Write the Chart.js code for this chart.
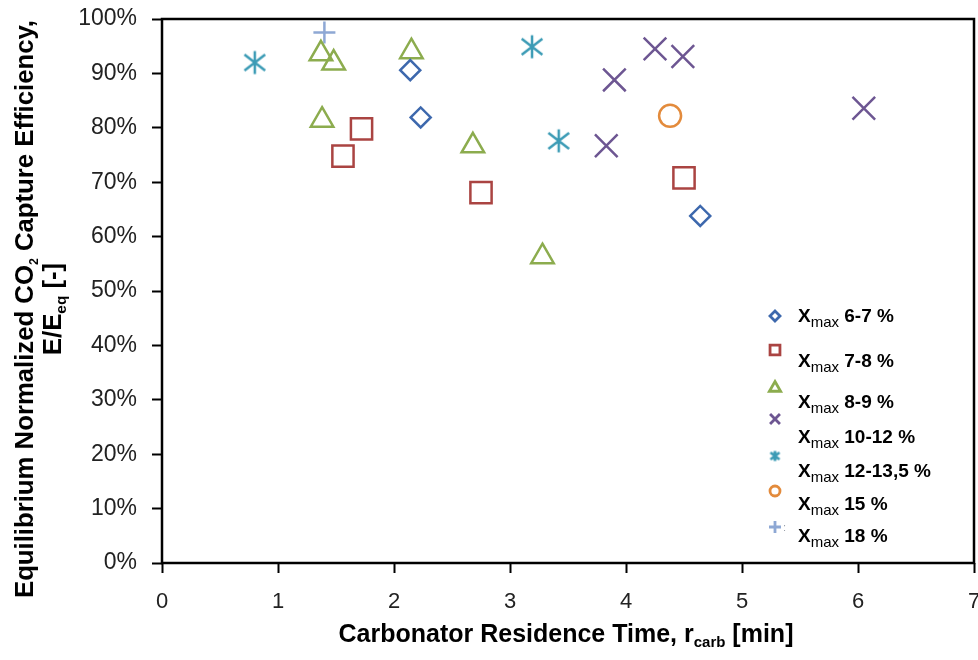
<!DOCTYPE html>
<html>
<head>
<meta charset="utf-8">
<script src="https://cdn.jsdelivr.net/npm/chart.js@4/dist/chart.umd.min.js"></script>
<style>
  html, body { margin: 0; padding: 0; background: #fff; overflow: hidden; }
  canvas { display: block; }
</style>
</head>
<body>
<canvas id="chartContainer" width="978" height="660"></canvas>
<script>
// residence time [min] and normalized capture efficiency [%] per Xmax group
var xmax67Time = [2.14, 2.23, 4.64];
var xmax67Eff = [90.6, 81.9, 63.8];
var xmax78Time = [1.56, 1.72, 2.75, 4.50];
var xmax78Eff = [74.8, 79.8, 68.1, 70.8];
var xmax89Time = [1.37, 1.38, 1.48, 2.15, 2.68, 3.28];
var xmax89Eff = [93.6, 81.4, 91.9, 94.0, 76.7, 56.3];
var xmax1012Time = [3.83, 3.90, 4.25, 4.49, 6.05];
var xmax1012Eff = [76.7, 88.8, 94.5, 93.1, 83.6];
var xmax12135Time = [0.80, 3.19, 3.42];
var xmax12135Eff = [92.0, 94.9, 77.6];
var xmax15Time = [4.38];
var xmax15Eff = [82.2];
var xmax18Time = [1.40];
var xmax18Eff = [97.5];

var seriesLabels = ['6-7 %', '7-8 %', '8-9 %', '10-12 %', '12-13,5 %', '15 %', '18 %'];
var xTicks = [0, 1, 2, 3, 4, 5, 6, 7];
var yTicks = [0, 10, 20, 30, 40, 50, 60, 70, 80, 90, 100];

var FONT = "'Liberation Sans', Arial, Helvetica, sans-serif";

// six-armed asterisk marker (Chart.js 'star' has eight arms)
function asteriskMarker(size, color, lw) {
    var c = document.createElement('canvas');
    c.width = size;
    c.height = size;
    var g = c.getContext('2d');
    var m = size / 2, r = size / 2 - 1.5;
    g.strokeStyle = color;
    g.lineWidth = lw;
    g.beginPath();
    g.moveTo(m, m - r); g.lineTo(m, m + r);
    g.moveTo(m - r * 0.9, m - r * 0.7); g.lineTo(m + r * 0.9, m + r * 0.7);
    g.moveTo(m - r * 0.9, m + r * 0.7); g.lineTo(m + r * 0.9, m - r * 0.7);
    g.stroke();
    return c;
}

function toPoints(xs, ys) {
    var pts = [];
    for (var i = 0; i < xs.length; i++) {
        pts.push({ x: xs[i], y: ys[i] });
    }
    return pts;
}

var colors = ['#3d68ad', '#aa4442', '#8cac4e', '#6d5692', '#3b9bb5', '#e38b3c', '#8ea8d4'];

var series = [
    { data: toPoints(xmax67Time, xmax67Eff), style: 'rectRot', r: 10, lr: 5 },
    { data: toPoints(xmax78Time, xmax78Eff), style: 'rect', r: 15, lr: 7 },
    { data: toPoints(xmax89Time, xmax89Eff), style: 'triangle', r: 13, lr: 6.5 },
    { data: toPoints(xmax1012Time, xmax1012Eff), style: 'crossRot', r: 16, lr: 7 },
    { data: toPoints(xmax12135Time, xmax12135Eff), style: asteriskMarker(26, colors[4], 2.5), r: 12,
      legendStyle: asteriskMarker(13, colors[4], 2.8), lr: 5 },
    { data: toPoints(xmax15Time, xmax15Eff), style: 'circle', r: 11, lr: 5 },
    { data: toPoints(xmax18Time, xmax18Eff), style: 'cross', r: 11, lr: 6 }
];

var datasets = series.map(function (s, i) {
    return {
        label: 'Xmax ' + seriesLabels[i],
        data: s.data,
        pointStyle: s.style,
        pointRadius: s.r,
        pointHoverRadius: s.r,
        borderColor: colors[i],
        backgroundColor: 'rgba(0,0,0,0)',
        pointBorderWidth: 2.5,
        showLine: false,
        clip: false
    };
});

// text runs with optional subscripts, drawn left to right from x on baseline y
function runWidth(ctx, parts) {
    var w = 0;
    parts.forEach(function (p) {
        ctx.font = p.font;
        w += ctx.measureText(p.t).width;
    });
    return w;
}

function drawRuns(ctx, parts, x, y) {
    parts.forEach(function (p) {
        ctx.font = p.font;
        ctx.fillText(p.t, x, y + (p.dy || 0));
        x += ctx.measureText(p.t).width;
    });
}

var titleFont = 'bold 25px ' + FONT;
var subFont = 'bold 15px ' + FONT;
var smallSubFont = 'bold 12px ' + FONT;

var frameAndTitles = {
    id: 'frameAndTitles',
    beforeDatasetsDraw: function (chart) {
        var a = chart.chartArea, ctx = chart.ctx;
        ctx.save();
        ctx.strokeStyle = '#000';
        ctx.lineWidth = 2.5;
        ctx.strokeRect(a.left, a.top, a.right - a.left, a.bottom - a.top);
        ctx.restore();
    },
    afterDraw: function (chart) {
        var a = chart.chartArea, ctx = chart.ctx;
        ctx.save();
        ctx.fillStyle = '#000';
        ctx.textBaseline = 'alphabetic';
        ctx.textAlign = 'left';

        // x axis title
        var xt = [
            { t: 'Carbonator Residence Time, r', font: titleFont },
            { t: 'carb', font: subFont, dy: 5 },
            { t: ' [min]', font: titleFont }
        ];
        var xw = runWidth(ctx, xt);
        drawRuns(ctx, xt, (a.left + a.right) / 2 - 2 - xw / 2, 642);

        // y axis title, two rotated lines
        var l1 = [
            { t: 'Equilibrium Normalized CO', font: titleFont },
            { t: '2', font: smallSubFont, dy: 5 },
            { t: ' Capture Efficiency,', font: titleFont }
        ];
        var l2 = [
            { t: 'E/E', font: titleFont },
            { t: 'eq', font: subFont, dy: 5 },
            { t: ' [-]', font: titleFont }
        ];
        var w1 = runWidth(ctx, l1);
        var fit = 578 / w1;
        ctx.save();
        ctx.translate(33, 309);
        ctx.rotate(-Math.PI / 2);
        ctx.scale(fit, 1);
        drawRuns(ctx, l1, -w1 / 2, 0);
        ctx.restore();

        var w2 = runWidth(ctx, l2);
        ctx.save();
        ctx.translate(61, 309);
        ctx.rotate(-Math.PI / 2);
        ctx.scale(fit, 1);
        drawRuns(ctx, l2, -w2 / 2, 0);
        ctx.restore();

        // legend inside the plot, lower right
        var markerX = a.right - 199;
        var textX = a.right - 176;
        var markerY = [316, 350, 388, 419, 456, 491, 527];
        var textY = [322, 367, 408, 443, 477, 510, 542];
        series.forEach(function (s, i) {
            ctx.save();
            ctx.strokeStyle = colors[i];
            ctx.fillStyle = 'rgba(0,0,0,0)';
            ctx.lineWidth = 2.8;
            Chart.helpers.drawPoint(ctx, {
                pointStyle: s.legendStyle || s.style,
                radius: s.lr,
                rotation: 0,
                borderWidth: 2.8
            }, markerX, markerY[i]);
            ctx.restore();
            ctx.fillStyle = '#000';
            drawRuns(ctx, [
                { t: 'X', font: 'bold 19px ' + FONT },
                { t: 'max', font: '15px ' + FONT, dy: 5 },
                { t: ' ' + seriesLabels[i], font: 'bold 19px ' + FONT }
            ], textX, textY[i]);
        });
        ctx.fillStyle = '#9aa0aa';
        ctx.font = '11px ' + FONT;
        ctx.fillText(':', markerX + 8, markerY[6] + 4);
        ctx.restore();
    }
};

var chart = new Chart(document.getElementById('chartContainer'), {
    type: 'scatter',
    data: { datasets: datasets },
    options: {
        responsive: false,
        animation: false,
        events: [],
        layout: { autoPadding: false, padding: { left: 0, top: 19, right: 4, bottom: 0 } },
        plugins: {
            legend: { display: false },
            tooltip: { enabled: false }
        },
        scales: {
            x: {
                type: 'linear',
                min: 0,
                max: 7,
                afterBuildTicks: function (s) {
                    s.ticks = xTicks.map(function (v) { return { value: v }; });
                },
                afterFit: function (s) {
                    s.height = 97;
                    s.paddingLeft = 0;
                    s.paddingRight = 0;
                },
                ticks: {
                    color: '#222',
                    font: { family: FONT, size: 22 },
                    padding: 16,
                    maxRotation: 0
                },
                grid: {
                    drawOnChartArea: false,
                    drawTicks: true,
                    tickLength: 10,
                    tickWidth: 2,
                    tickColor: '#000'
                },
                border: { display: false }
            },
            y: {
                type: 'linear',
                min: 0,
                max: 100,
                afterBuildTicks: function (s) {
                    s.ticks = yTicks.map(function (v) { return { value: v }; });
                },
                afterFit: function (s) {
                    s.width = 162;
                    s.paddingTop = 0;
                    s.paddingBottom = 0;
                },
                ticks: {
                    color: '#222',
                    font: { family: FONT, size: 23 },
                    padding: 15,
                    callback: function (v) { return v + '%'; }
                },
                grid: {
                    drawOnChartArea: false,
                    drawTicks: true,
                    tickLength: 10,
                    tickWidth: 2,
                    tickColor: '#000'
                },
                border: { display: false }
            }
        }
    },
    plugins: [frameAndTitles]
});
</script>
</body>
</html>
